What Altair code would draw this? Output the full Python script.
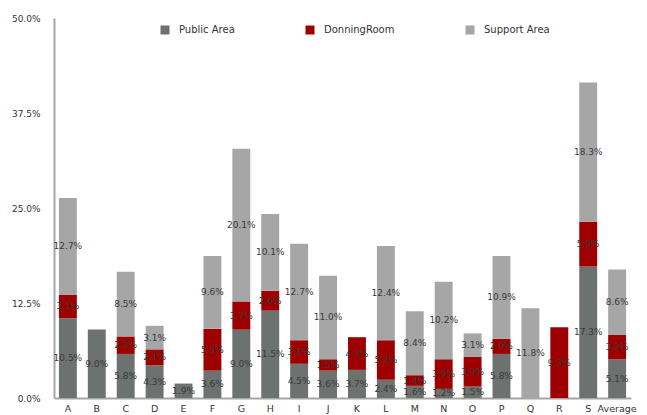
import altair as alt
import pandas as pd

categories = ["A", "B", "C", "D", "E", "F", "G", "H", "I", "J",
              "K", "L", "M", "N", "O", "P", "Q", "R", "S", "Average"]
public_area = [10.5, 9.0, 5.8, 4.3, 1.9, 3.6, 9.0, 11.5, 4.5, 3.6,
               3.7, 2.4, 1.6, 1.2, 1.5, 5.8, 0.0, 0.0, 17.3, 5.1]
donning_room = [3.1, 0.0, 2.3, 2.1, 0.0, 5.5, 3.7, 2.6, 3.1, 1.5,
                4.3, 5.2, 1.4, 3.9, 3.9, 2.0, 0.0, 9.3, 5.9, 3.2]
support_area = [12.7, 0.0, 8.5, 3.1, 0.0, 9.6, 20.1, 10.1, 12.7, 11.0,
                0.0, 12.4, 8.4, 10.2, 3.1, 10.9, 11.8, 0.0, 18.3, 8.6]
series = ["Public Area", "DonningRoom", "Support Area"]
colors = ["#6d716f", "#9e0000", "#a6a6a6"]
y_ticks = [0, 12.5, 25, 37.5, 50]

rows = []
for i, cat in enumerate(categories):
    for k, (name, vals) in enumerate(zip(series, [public_area, donning_room, support_area])):
        rows.append({"cat": cat, "series": name, "order": k, "value": vals[i]})
df = pd.DataFrame(rows)

FONT = "DejaVu Sans"

base = alt.Chart(df).transform_filter("datum.value > 0").transform_stack(
    stack="value", groupby=["cat"], as_=["y0", "y1"],
    sort=[alt.SortField("order", order="ascending")],
).transform_calculate(mid="(datum.y0 + datum.y1) / 2")

x_enc = alt.X(
    "cat:N", sort=categories, title=None,
    scale=alt.Scale(paddingInner=0.38, paddingOuter=0.17),
    axis=alt.Axis(labelAngle=0, ticks=False, labelPadding=5, labelFontSize=9.5,
                  labelColor="#333333", labelFont=FONT, domainColor="#a6a6a6",
                  domainWidth=2),
)
y_scale = alt.Scale(domain=[0, 50], nice=False)

bars = base.mark_bar().encode(
    x=x_enc,
    y=alt.Y("y0:Q", scale=y_scale, title=None,
            axis=alt.Axis(values=y_ticks, grid=False, ticks=False, labelPadding=14,
                          labelFontSize=9, labelColor="#333333", labelFont=FONT,
                          domainColor="#a6a6a6", domainWidth=2,
                          labelExpr="format(datum.value, '.1f') + '%'")),
    y2="y1:Q",
    color=alt.Color("series:N", scale=alt.Scale(domain=series, range=colors), title=None,
                    legend=alt.Legend(orient="none", direction="horizontal",
                                      legendX=106, legendY=7, symbolType="square",
                                      symbolSize=81, symbolStrokeWidth=0,
                                      columnPadding=70, labelFontSize=10,
                                      labelFont=FONT, labelColor="#333333",
                                      labelOffset=9)),
    order=alt.Order("order:Q"),
)

labels = base.mark_text(fontSize=9, font=FONT, color="#3a3a3a").encode(
    x=alt.X("cat:N", sort=categories),
    y=alt.Y("mid:Q", scale=y_scale),
    text=alt.Text("label:N"),
).transform_calculate(label="format(datum.value, '.1f') + '%'")

chart = alt.layer(bars, labels).properties(
    width=577, height=380,
    autosize=alt.AutoSizeParams(type="none"),
    padding={"left": 54, "top": 18, "right": 16, "bottom": 17},
).configure_view(stroke=None)

chart.save("out.html", embed_options={"renderer": "svg", "actions": False})
